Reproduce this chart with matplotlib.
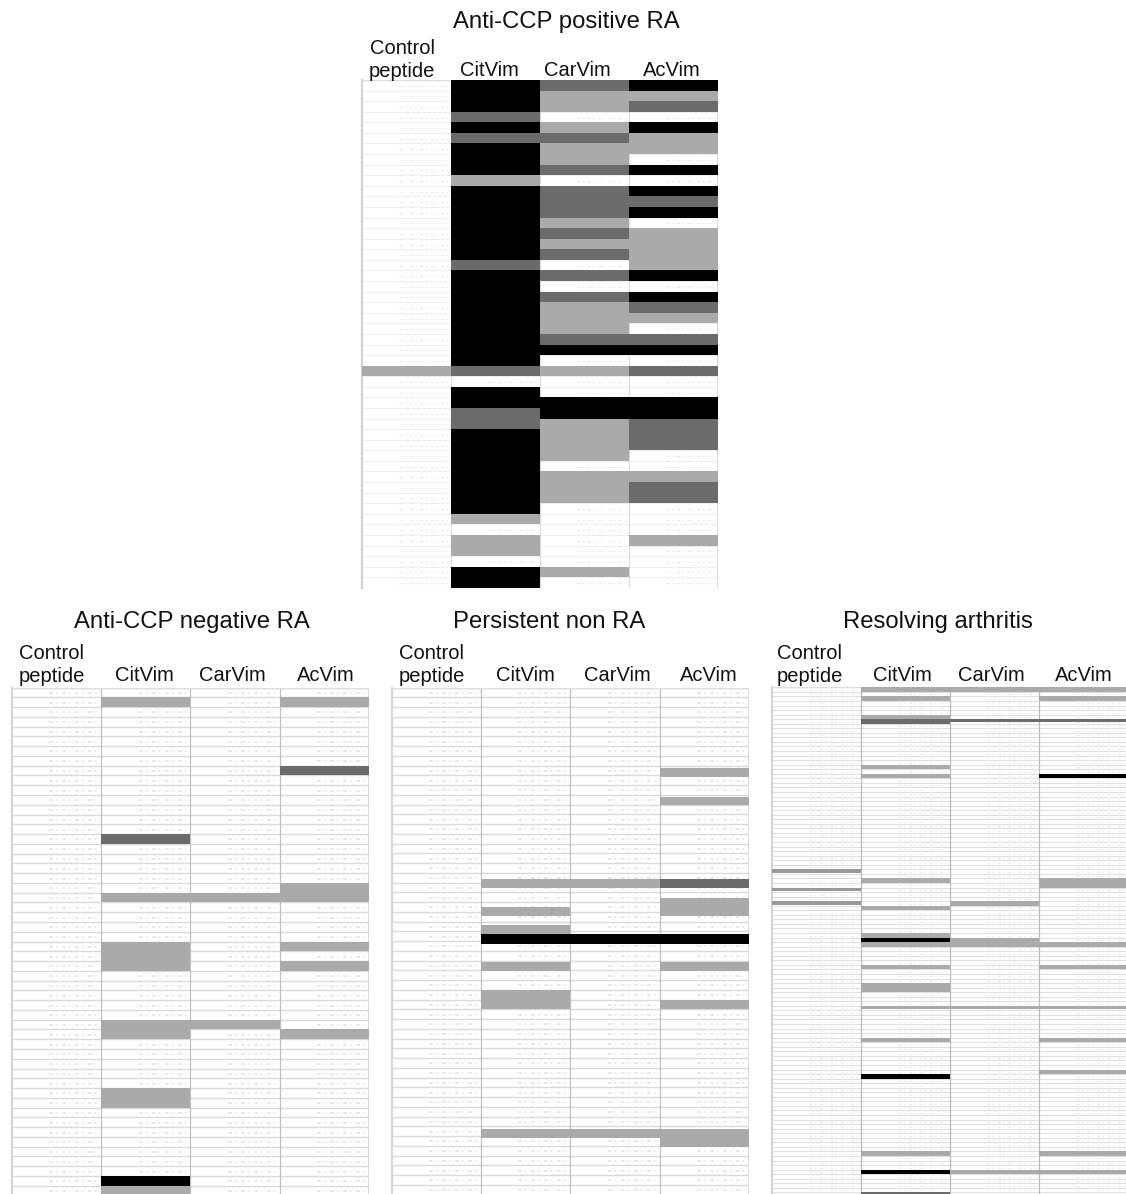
import matplotlib
matplotlib.use("Agg")
import matplotlib.pyplot as plt

plt.rcParams['font.family'] = ['Liberation Sans', 'DejaVu Sans']

W, H = 1126, 1194
COLS = ["Control peptide", "CitVim", "CarVim", "AcVim"]
TITLES = ["Anti-CCP positive RA", "Anti-CCP negative RA", "Persistent non RA", "Resolving arthritis"]
SHADES = {1: "#aaaaaa", 2: "#6b6b6b", 3: "#000000", 4: "#999999"}

# level per patient row (0 none, 1 light, 2 dark, 3 black)
pos_control = [0]*27 + [1] + [0]*20
pos_cit = [3,3,3,2,3,2,3,3,3,1, 3,3,3,3,3,3,3,2,3,3, 3,3,3,3,3,3,3,2,0,3, 3,2,2,3,3,3,3,3,3,3, 3,1,0,1,1,0,3,3]
pos_car = [2,1,1,0,1,2,1,1,2,0, 2,2,2,1,2,1,2,0,2,0, 2,1,1,1,2,3,0,1,0,0, 3,3,1,1,1,1,0,1,1,1, 0,0,0,0,0,0,1,0]
pos_ac  = [3,1,2,0,3,1,1,0,3,0, 3,2,3,0,1,1,1,1,3,0, 3,2,1,0,2,3,0,2,0,0, 3,3,2,2,2,0,0,1,2,2, 0,0,0,1,0,0,0,0]

# (row, number of rows, level)
neg_control = []
neg_cit = [(1,1,1),(15,1,2),(21,1,1),(26,3,1),(34,2,1),(41,2,1),(50,1,3),(51,1,1)]
neg_car = [(21,1,1),(34,1,1)]
neg_ac  = [(1,1,1),(8,1,2),(20,2,1),(26,1,1),(28,1,1),(35,1,1)]

per_control = []
per_cit = [(19.66,.92,1),(22.47,.95,1),(24.35,.95,1),(25.3,1.03,3),(28.2,.85,1),(31.0,1.95,1),(45.3,.92,1)]
per_car = [(19.66,.92,1),(25.3,1.03,3),(45.3,.92,1)]
per_ac  = [(8.28,.92,1),(11.25,.8,1),(19.66,.92,2),(21.55,1.88,1),(25.3,1.03,3),(28.2,.85,1),(32.0,.95,1),(45.3,1.85,1)]

res_control = [(40,.8,4),(44,.8,4),(47,.8,4)]
res_cit = [(0,1,1),(2,1,1),(6,1,1),(7,1,2),(17,1,1),(19,1,1),(42,1,1),(48,1,1),(54,1,1),(55,1,3),(56,1,1),
           (61,1,1),(65,2,1),(70,.7,1),(77,1,1),(85,1,3),(102,1,1),(106,1,3),(111,1,2)]
res_car = [(0,1,1),(7,.7,2),(47,1,1),(55,2,1),(70,.7,1),(106,1,1)]
res_ac  = [(0,1,1),(2,1,1),(7,.7,2),(19,1,3),(42,2,1),(56,1,1),(61,1,1),(70,.7,1),(77,1,1),(84,1,1),(102,1,1),(106,1,1)]


def from_levels(levels):
    return [(i, 1, v) for i, v in enumerate(levels) if v]


def panel(left, top, col_w, row_h, rows_shown, columns, dash, grid_c, vline_c, grid_lw):
    right = min(left + col_w * 4, W)
    bottom = min(top + row_h * rows_shown, H)
    ax = fig.add_axes([left / W, 1 - bottom / H, (right - left) / W, (bottom - top) / H])
    ax.set_xlim(0, (right - left) / col_w)
    ax.set_ylim((bottom - top) / row_h, 0)
    ax.axis("off")
    n = int((bottom - top) / row_h) + 1
    for r in range(n + 1):
        ax.axhline(r, color=grid_c, lw=grid_lw, zorder=1)
        for c in range(4):
            ax.plot([c + .42, c + .96], [r + .55, r + .55], color=dash, lw=grid_lw * 1.1,
                    ls=(0, (2.5, 2, 1, 3)), zorder=1)
    for c, segs in enumerate(columns):
        for start, span, level in segs:
            ax.barh(start, 1, left=c, height=span, align="edge", color=SHADES[level], lw=0, zorder=3)
    for c in (1, 2, 3):
        ax.axvline(c, color=vline_c, lw=.9, zorder=2)
    ax.axvline(0, color="#d4d4d4", lw=1.6, zorder=2, clip_on=False)
    ax.axvline(4, color="#d4d4d4", lw=1.2, zorder=2)
    ax.axhline(0, color="#dddddd", lw=1.0, zorder=2)
    return ax


def label(x, y, text, size):
    fig.text(x / W, 1 - y / H, text, ha="center", va="baseline", fontsize=size, color="#111111")


fig = plt.figure(figsize=(W / 100, H / 100), dpi=100, facecolor="white")

panel(361.5, 80, 89.1, 10.58, 48,
      [from_levels(pos_control), from_levels(pos_cit), from_levels(pos_car), from_levels(pos_ac)],
      "#e8e8e8", "#eeeeee", "#dddddd", .8)
panel(12, 687.5, 89.2, 9.77, 52, [neg_control, neg_cit, neg_car, neg_ac],
      "#e2e2e2", "#dadada", "#c0c0c0", 1.0)
panel(391.5, 687.5, 89.4, 9.75, 52, [per_control, per_cit, per_car, per_ac],
      "#e2e2e2", "#dadada", "#c0c0c0", 1.0)
panel(771.5, 687.3, 89.0, 4.55, 112, [res_control, res_cit, res_car, res_ac],
      "#eeeeee", "#e0e0e0", "#bbbbbb", .8)

TITLE_SIZE, LABEL_SIZE = 17.2, 14.5
header = [
    (566.7, 28, 402, 54, 77, [489, 577, 671.7], 76),
    (192, 628, 52, 659, 682, [144, 232.7, 326], 681),
    (549, 628, 432, 659, 682, [525, 617, 709], 681),
    (938, 628, 810, 659, 682, [902, 991, 1084], 681),
]
for title, (tx, ty, cx, cy1, cy2, xs, yb) in zip(TITLES, header):
    label(tx, ty, title, TITLE_SIZE)
    label(cx, cy1, COLS[0].split()[0], LABEL_SIZE)
    label(cx, cy2, COLS[0].split()[1], LABEL_SIZE)
    for x, name in zip(xs, COLS[1:]):
        label(x, yb, name, LABEL_SIZE)

fig.savefig("out.png", dpi=100, facecolor="white")
